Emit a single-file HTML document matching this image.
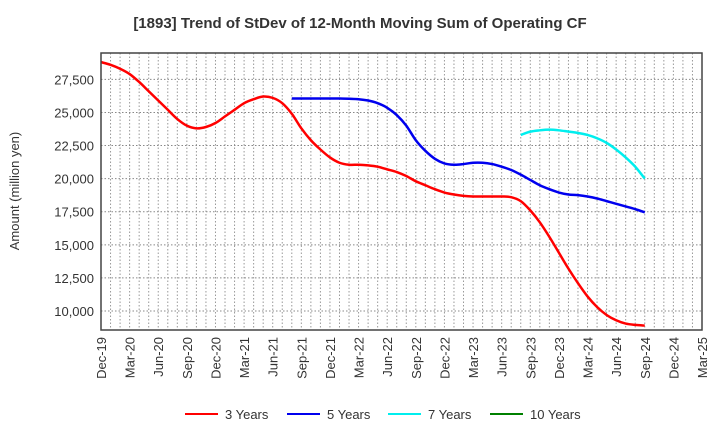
<!DOCTYPE html>
<html><head><meta charset="utf-8"><style>
body{margin:0;background:#fff;font-family:"Liberation Sans",sans-serif}
svg text{font-family:"Liberation Sans",sans-serif}
</style></head><body>
<svg id="chart" width="720" height="440">
<text x="360" y="28" text-anchor="middle" font-size="15" font-weight="bold" fill="#333">[1893]  Trend of StDev of 12-Month Moving Sum of Operating CF</text>
<text transform="translate(19,191) rotate(-90)" text-anchor="middle" font-size="13" fill="#333">Amount (million yen)</text>
<g id="grid"></g><g id="series"></g><g id="axes"></g><g id="legend"></g>
</svg>
<script>
const xLabels=["Dec-19","Mar-20","Jun-20","Sep-20","Dec-20","Mar-21","Jun-21","Sep-21","Dec-21","Mar-22","Jun-22","Sep-22","Dec-22","Mar-23","Jun-23","Sep-23","Dec-23","Mar-24","Jun-24","Sep-24","Dec-24","Mar-25"];
const yTicks=[10000,12500,15000,17500,20000,22500,25000,27500];
const seriesNames=["3 Years","5 Years","7 Years","10 Years"];
const seriesColors=["#ff0000","#0000ee","#00eeee","#008000"];
const y3Start=0;
const y3=[28800,28600,28300,27900,27300,26600,25900,25200,24500,24000,23800,23900,24200,24700,25200,25700,26000,26200,26100,25700,24900,23800,22900,22200,21600,21200,21050,21050,21000,20900,20700,20500,20200,19800,19500,19200,18950,18800,18700,18650,18650,18650,18650,18600,18300,17600,16700,15600,14400,13200,12100,11100,10300,9700,9300,9050,8950,8900];
const y5Start=20;
const y5=[26050,26050,26050,26050,26050,26050,26030,26000,25900,25700,25350,24800,24000,22900,22100,21500,21150,21050,21100,21200,21200,21100,20900,20650,20300,19900,19500,19200,18950,18800,18750,18650,18500,18300,18100,17900,17700,17450];
const y7Start=44;
const y7=[23300,23550,23650,23700,23650,23550,23450,23300,23050,22700,22200,21600,20900,20000];
const y10=[];
const L=101,R=702,T=53,B=330,yMin=8565,yMax=29490,nMonths=63;
const xs=m=>L+(R-L)*m/nMonths;
const ys=v=>B-(B-T)*(v-yMin)/(yMax-yMin);
const NS="http://www.w3.org/2000/svg";
function mk(tag,attrs,parent){const e=document.createElementNS(NS,tag);for(const k in attrs)e.setAttribute(k,attrs[k]);parent.appendChild(e);return e;}
const grid=document.getElementById('grid'),axes=document.getElementById('axes'),ser=document.getElementById('series'),leg=document.getElementById('legend');
for(let m=1;m<nMonths;m++){const l=mk('line',{x1:xs(m),x2:xs(m),y1:T,y2:B,stroke:'#999','stroke-dasharray':'1.5,2','stroke-width':1},grid);

}
yTicks.forEach(v=>{const l=mk('line',{x1:L,x2:R,y1:ys(v),y2:ys(v),stroke:'#888','stroke-dasharray':'1.5,2','stroke-width':1},grid);


const t=mk('text',{x:L-7,y:ys(v)+5,'text-anchor':'end','font-size':13,fill:'#333'},axes);t.textContent=v.toLocaleString('en-US');

});
xLabels.forEach((s,i)=>{const x=xs(i*3);const t=mk('text',{transform:`translate(${x+5},${B+7}) rotate(-90)`,'text-anchor':'end','font-size':13,fill:'#333'},axes);t.textContent=s;

});
const frame=mk('rect',{x:L,y:T,width:R-L,height:B-T,fill:'none',stroke:'#444','stroke-width':1.5},axes);


function path(vals,start){const p=vals.map((v,i)=>[xs(start+i),ys(v)]);if(p.length<2)return '';let d=`M${p[0][0]},${p[0][1]}`;
for(let i=0;i<p.length-1;i++){const p0=p[Math.max(0,i-1)],p1=p[i],p2=p[i+1],p3=p[Math.min(p.length-1,i+2)];
d+=` C${p1[0]+(p2[0]-p0[0])/6},${p1[1]+(p2[1]-p0[1])/6} ${p2[0]-(p3[0]-p1[0])/6},${p2[1]-(p3[1]-p1[1])/6} ${p2[0]},${p2[1]}`;}return d;}
[[y3,y3Start,0,'line-3-years'],[y5,y5Start,1,'line-5-years'],[y7,y7Start,2,'line-7-years']].forEach(([v,s,c,n])=>{
const e=mk('path',{d:path(v,s),fill:'none',stroke:seriesColors[c],'stroke-width':2.5},ser);

});
const lx=[185,287,388,490];
seriesNames.forEach((n,i)=>{const g=mk('g',{},leg);


mk('line',{x1:lx[i],x2:lx[i]+33,y1:414,y2:414,stroke:seriesColors[i],'stroke-width':2},g);
const t=mk('text',{x:lx[i]+40,y:419,'font-size':13,fill:'#333'},g);t.textContent=n;});
</script>
</body></html>
